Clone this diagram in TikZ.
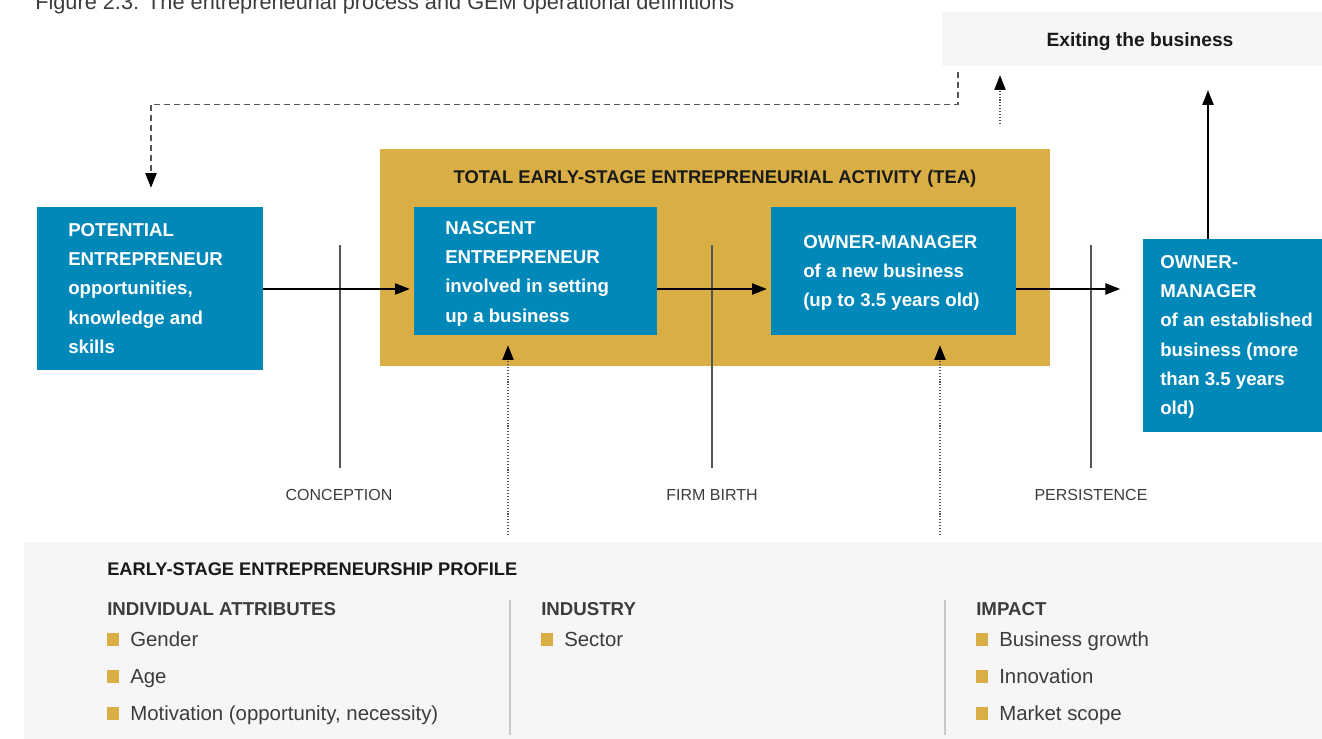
\documentclass[tikz,border=0pt]{standalone}
\usepackage{fontspec}
\setmainfont{Liberation Sans}
\usetikzlibrary{arrows.meta,fit}
\definecolor{gemblue}{HTML}{0088B9}
\definecolor{gemgold}{HTML}{D9AF45}
\definecolor{panel}{HTML}{F6F6F8}
\definecolor{txtdark}{HTML}{1A1A1A}
\definecolor{txtgray}{HTML}{3C3C3C}
\definecolor{linegray}{HTML}{555555}
\definecolor{divgray}{HTML}{C8C8C8}
\tikzset{
  bluebox/.style={fill=gemblue, draw=none, inner sep=0},
  boxtext/.style={text=white, font=\bfseries\fontsize{14}{22}\selectfont, align=left, anchor=north west, inner sep=0},
  tipstyle/.style={-{Triangle[length=11pt,width=8.5pt,color=black,fill=black]}},
  flow/.style={tipstyle, line width=0.8pt, draw=black},
  dotarrow/.style={tipstyle, line width=0.8pt, dash pattern=on 0.8pt off 1.4pt, draw=linegray},
  dasharrow/.style={tipstyle, line width=1.1pt, dash pattern=on 4.5pt off 3pt, draw=linegray},
  stage/.style={draw=linegray, line width=0.9pt},
  stagelabel/.style={anchor=base, inner sep=0, text=txtgray, font=\fontsize{12}{14}\selectfont},
  colhead/.style={anchor=base west, inner sep=0, text=txtgray, font=\bfseries\fontsize{14}{16}\selectfont},
  item/.style={anchor=base west, inner sep=0, text=txtgray, font=\fontsize{15.3}{18}\selectfont},
}
\begin{document}
\begin{tikzpicture}[x=0.75pt,y=-0.75pt]
\useasboundingbox (0,0) rectangle (1322,739);
% caption (cut off at top)
\node[anchor=base west, inner sep=0, text=txtgray, font=\fontsize{16.3}{18}\selectfont] (cap) at (35,9) {Figure 2.3: The entrepreneurial process and GEM operational definitions};
% background boxes
\node[fit={(942,12)(1340,66)}, fill=panel, inner sep=0] (exit) {};
\node[anchor=base, inner sep=0, text=txtdark, font=\bfseries\fontsize{14.4}{16}\selectfont] (exitT) at (1140,46) {Exiting the business};
\node[fit={(380,149)(1050,366)}, fill=gemgold, inner sep=0] (tea) {};
\node[anchor=base, inner sep=0, text=txtdark, font=\bfseries\fontsize{13.8}{16}\selectfont] (teaT) at (715,183.5) {TOTAL EARLY-STAGE ENTREPRENEURIAL ACTIVITY (TEA)};
\node[fit={(37,207)(263,370)}, bluebox] (pot) {};
\node[fit={(414,207)(657,335)}, bluebox] (nas) {};
\node[fit={(771,207)(1016,335)}, bluebox] (own) {};
\node[fit={(1143,239)(1340,432)}, bluebox] (est) {};
\node[boxtext] (potT) at (68,223) {POTENTIAL\\ENTREPRENEUR\\opportunities,\\knowledge and\\skills};
\node[boxtext] (nasT) at (445,221) {NASCENT\\ENTREPRENEUR\\involved in setting\\up a business};
\node[boxtext] (ownT) at (803,235) {OWNER-MANAGER\\of a new business\\(up to 3.5 years old)};
\node[boxtext] (estT) at (1160,255) {OWNER-\\MANAGER\\of an established\\business (more\\than 3.5 years\\old)};
% stage lines and labels
\draw[stage] (340,245) -- (340,468);
\draw[stage] (712,245) -- (712,468);
\draw[stage] (1091,245) -- (1091,468);
\node[stagelabel] (conc) at (339,500.7) {CONCEPTION};
\node[stagelabel] (birth) at (712,500.7) {FIRM BIRTH};
\node[stagelabel] (pers) at (1091,500.7) {PERSISTENCE};
% main flow
\coordinate (ay) at (0,289);
\draw[flow, shorten >=3pt] (pot.east |- ay) -- (nas.west |- ay);
\draw[flow, shorten >=3pt] (nas.east |- ay) -- (own.west |- ay);
\draw[flow, shorten >=17pt] (own.east |- ay) -- (est.west |- ay);
% exits
\coordinate (ux) at (1208,0);
\draw[flow, shorten >=18pt] (est.north -| ux) -- (exit.south -| ux);
\coordinate (d1) at (1000,124);
\draw[dotarrow, shorten >=6.75pt] (d1) -- (exit.south -| d1);
\coordinate (dx) at (958,0);
\coordinate (px) at (151,0);
\draw[dasharrow, shorten <=4.5pt, shorten >=14.25pt] (exit.south -| dx) -- ++(0,38) -| (pot.north -| px);
% profile panel
\node[fit={(24,542)(1340,745)}, fill=panel, inner sep=0] (prof) {};
\coordinate (b1) at (508,0);
\coordinate (b2) at (940,0);
\draw[dotarrow, shorten <=5pt, shorten >=7.5pt] (prof.north -| b1) -- (nas.south -| b1);
\draw[dotarrow, shorten <=5pt, shorten >=7.5pt] (prof.north -| b2) -- (own.south -| b2);
\node[anchor=base west, inner sep=0, text=txtdark, font=\bfseries\fontsize{13.7}{16}\selectfont] (profT) at (107,575.5) {EARLY-STAGE ENTREPRENEURSHIP PROFILE};
\draw[divgray, line width=1.5pt] (510,600) -- (510,735);
\draw[divgray, line width=1.5pt] (945,600) -- (945,735);
\node[colhead] (h1) at (107,615.7) {INDIVIDUAL ATTRIBUTES};
\node[colhead] (h2) at (541,615.7) {INDUSTRY};
\node[colhead] (h3) at (976,615.7) {IMPACT};
\foreach \x/\y in {107/639,107/676,107/713,541/639,976/639,976/676,976/713}
  \fill[gemgold] (\x,\y-6.5) rectangle (\x+12,\y+6.5);
\node[item] (i1) at (130,646) {Gender};
\node[item] (i2) at (130,683) {Age};
\node[item] (i3) at (130,720) {Motivation (opportunity, necessity)};
\node[item] (i4) at (564,646) {Sector};
\node[item] (i5) at (999,646) {Business growth};
\node[item] (i6) at (999,683) {Innovation};
\node[item] (i7) at (999,720) {Market scope};
\end{tikzpicture}
\end{document}
